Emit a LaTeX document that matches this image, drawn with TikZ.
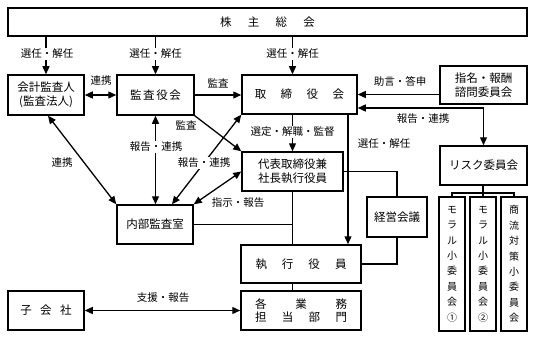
\documentclass[tikz,border=0pt]{standalone}
\usepackage{fontspec}
\setmainfont{Noto Sans CJK JP}
\usetikzlibrary{arrows.meta}
\newcommand\jspread[2]{\makebox[#1][s]{#2}}
\tikzset{
  box/.style={draw, line width=1.5pt, inner sep=0pt, align=center,
    font=\fontsize{11.5}{14}\selectfont},
  vbox/.style={draw, line width=1.5pt, inner sep=0pt, align=center,
    minimum width=26pt, minimum height=134pt,
    font=\fontsize{10}{15.4}\selectfont},
  ln/.style={line width=1.3pt},
  arr/.style={ln, -{Triangle[length=8pt,width=7pt]}},
  darr/.style={ln, {Triangle[length=8pt,width=7pt]}-{Triangle[length=8pt,width=7pt]}},
  lbl/.style={inner sep=1pt, font=\fontsize{10.5}{12}\selectfont},
  lblw/.style={lbl, fill=white},
}
\begin{document}
\begin{tikzpicture}[x=1pt,y=-1pt]
\useasboundingbox (0,0) rectangle (533,337);
% boxes
\node[box, minimum width=519pt, minimum height=28pt] (soukai) at (267.5,22) {\jspread{95pt}{株\hfill 主\hfill 総\hfill 会}};
\node[box, minimum width=76pt, minimum height=40pt] (kaikei) at (46,95) {会計監査人\\(監査法人)};
\node[box, minimum width=77pt, minimum height=40pt] (kansayaku) at (155.5,95) {\jspread{51pt}{監\hfill 査\hfill 役\hfill 会}};
\node[box, minimum width=115pt, minimum height=39pt] (torishimari) at (299.5,94.5) {\jspread{89.5pt}{取\hfill 締\hfill 役\hfill 会}};
\node[box, minimum width=87pt, minimum height=38pt] (shimei) at (483.5,85) {指名・報酬\\諮問委員会};
\node[box, minimum width=87pt, minimum height=39pt] (risk) at (483.5,165.5) {リスク委員会};
\node[box, minimum width=101pt, minimum height=39pt] (daihyo) at (292.5,171.5) {代表取締役兼\\社長執行役員};
\node[box, minimum width=76pt, minimum height=39pt] (naibu) at (155,224.5) {内部監査室};
\node[box, minimum width=60pt, minimum height=40pt] (keiei) at (397,217) {経営会議};
\node[box, minimum width=120pt, minimum height=38pt] (shikko) at (301,264) {\jspread{91pt}{執\hfill 行\hfill 役\hfill 員}};
\node[box, minimum width=120pt, minimum height=39pt] (kakugyomu) at (301,310.5) {\jspread{92pt}{各\hfill 業\hfill 務}\\[-1.5pt]\jspread{92pt}{担\hfill 当\hfill 部\hfill 門}};
\node[box, minimum width=76pt, minimum height=39pt] (kogaisha) at (46,310.5) {\jspread{51.5pt}{子\hfill 会\hfill 社}};
\node[vbox] (moral1) at (452,264) {モ\\ラ\\ル\\小\\委\\員\\会\\①};
\node[vbox] (moral2) at (483,264) {モ\\ラ\\ル\\小\\委\\員\\会\\②};
\node[vbox] (shoryu) at (514,264) {商\\流\\対\\策\\小\\委\\員\\会};
% helper coordinates
\coordinate (xA) at (348,0);
\coordinate (rj) at (483,193);
% connectors
\draw[arr] (soukai.south -| kaikei) -- (kaikei.north);
\draw[arr] (soukai.south -| kansayaku) -- (kansayaku.north);
\draw[arr] (soukai.south -| daihyo) -- (torishimari.north -| daihyo);
\draw[darr] (kaikei.east) -- (kansayaku.west);
\draw[arr] (kansayaku.east) -- (torishimari.west |- kansayaku.east);
\draw[arr] (shimei.west |- torishimari.east) -- (torishimari.east);
\draw[darr] ([yshift=-13.5pt]torishimari.east) -| (risk.north);
\draw[arr] (torishimari.south -| xA) -- (shikko.north -| xA);
\draw[arr] (torishimari.south -| daihyo) -- (daihyo.north);
\draw[arr] (kansayaku.south east) -- (daihyo.north west);
\draw[darr] ([xshift=2pt]kaikei.south) -- (naibu.north west);
\draw[darr] (kansayaku.south) -- (kansayaku.south |- naibu.north);
\draw[darr] ([xshift=17pt]naibu.north) -- (torishimari.south west);
\draw[darr] (naibu.north east) -- (daihyo.west);
\draw[ln] (daihyo.south) -- (daihyo.south |- shikko.north);
\draw[ln] (naibu.east) -- (naibu.east -| daihyo);
\draw[ln] (daihyo.east) -| (keiei.north);
\draw[ln] (keiei.south) |- (shikko.east);
\draw[ln] (shikko.south -| daihyo) -- (kakugyomu.north -| daihyo);
\draw[darr] (kogaisha.east) -- (kakugyomu.west);
\draw[ln] (risk.south -| rj) -- (rj);
\draw[ln] (moral1.north) |- (rj) -| (shoryu.north);
\draw[ln] (rj) -- (moral2.north);
% labels
\node[lblw] (l1) at (47,54) {選任・解任};
\node[lblw] (l2) at (155.5,54) {選任・解任};
\node[lblw] (l3) at (292.5,54) {選任・解任};
\node[lbl] (l4) at (101,81) {連携};
\node[lbl] (l5) at (218,83) {監査};
\node[lbl] (l6) at (400,81) {助言・答申};
\node[lbl] (l7) at (423,119) {報告・連携};
\node[lbl] (l8) at (384,144) {選任・解任};
\node[lblw] (l9) at (292.5,132) {選定・解職・監督};
\node[lbl] (l10) at (186,125) {監査};
\node[lbl] (l11) at (62,163) {連携};
\node[lblw] (l12) at (156,147) {報告・連携};
\node[lblw] (l13) at (204,163) {報告・連携};
\node[lbl] (l14) at (238,203) {指示・報告};
\node[lbl] (l15) at (163,298) {支援・報告};
\end{tikzpicture}
\end{document}
